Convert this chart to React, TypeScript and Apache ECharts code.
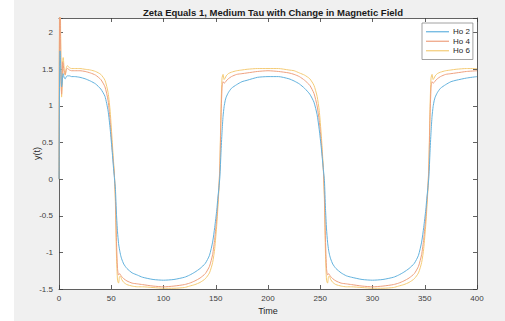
import React, { useEffect, useRef } from "react";
import * as echarts from "echarts";

const title = "Zeta Equals 1, Medium Tau with Change in Magnetic Field";
const seriesNames = ["Ho 2", "Ho 4", "Ho 6"];
const xTicks = [0, 50, 100, 150, 200, 250, 300, 350, 400];
const yTicks = [-1.5, -1, -0.5, 0, 0.5, 1, 1.5, 2];

const time = [
  0, 0.3, 0.7, 1, 1.5, 2, 2.5, 3, 3.5, 4, 5, 6, 7, 8, 10, 12, 15, 20, 25, 30, 35, 40, 44, 47, 49, 51, 52, 53,
  54, 55, 56, 57, 58, 59, 60, 62, 65, 70, 75, 80, 90, 100, 110, 120, 125, 130, 135, 140, 144, 147, 149, 151, 152, 153,
  154, 155, 156, 157, 158, 159, 160, 162, 165, 170, 175, 180, 190, 200, 210, 220, 225, 230, 235, 240, 244, 247, 249, 251, 252, 253,
  254, 255, 256, 257, 258, 259, 260, 262, 265, 270, 275, 280, 290, 300, 310, 320, 325, 330, 335, 340, 344, 347, 349, 351, 352, 353,
  354, 355, 356, 357, 358, 359, 360, 362, 365, 370, 375, 380, 390, 400,
];

const ho2 = [
  0, 0.9, 1.6, 1.75, 1.6, 1.38, 1.26, 1.3, 1.41, 1.44, 1.38, 1.37, 1.4, 1.41, 1.41, 1.4, 1.4, 1.39, 1.37, 1.34, 1.3, 1.23, 1.13, 0.93, 0.68, 0.36, 0.18, 0.02,
  -0.14, -0.48, -0.72, -0.88, -0.97, -1.04, -1.09, -1.16, -1.22, -1.28, -1.31, -1.34, -1.37, -1.38, -1.37, -1.34, -1.31, -1.27, -1.22, -1.15, -1.04, -0.86, -0.66, -0.42, -0.26, -0.12,
  0.04, 0.36, 0.64, 0.86, 0.99, 1.07, 1.12, 1.18, 1.24, 1.29, 1.33, 1.35, 1.39, 1.4, 1.4, 1.37, 1.34, 1.3, 1.24, 1.16, 1.05, 0.88, 0.68, 0.43, 0.28, 0.13,
  -0.02, -0.4, -0.68, -0.86, -0.97, -1.04, -1.09, -1.16, -1.22, -1.28, -1.32, -1.34, -1.37, -1.38, -1.37, -1.34, -1.31, -1.27, -1.22, -1.15, -1.04, -0.86, -0.66, -0.42, -0.26, -0.12,
  0.04, 0.36, 0.64, 0.86, 0.99, 1.07, 1.12, 1.18, 1.24, 1.29, 1.33, 1.35, 1.38, 1.4,
];

const ho4 = [
  0, 1.6, 2.3, 2.4, 1.9, 1.3, 1.16, 1.35, 1.6, 1.58, 1.44, 1.43, 1.5, 1.51, 1.49, 1.48, 1.48, 1.48, 1.47, 1.45, 1.42, 1.36, 1.26, 1.07, 0.78, 0.4, 0.22, 0.05,
  -0.25, -0.85, -1.22, -1.31, -1.29, -1.31, -1.33, -1.36, -1.39, -1.42, -1.43, -1.44, -1.46, -1.47, -1.46, -1.44, -1.42, -1.39, -1.35, -1.29, -1.19, -1.03, -0.82, -0.52, -0.32, -0.12,
  0.18, 0.82, 1.24, 1.33, 1.31, 1.32, 1.34, 1.37, 1.4, 1.43, 1.44, 1.45, 1.47, 1.48, 1.47, 1.45, 1.43, 1.4, 1.35, 1.28, 1.17, 1.0, 0.8, 0.5, 0.31, 0.11,
  -0.22, -0.83, -1.22, -1.31, -1.29, -1.31, -1.33, -1.36, -1.39, -1.42, -1.43, -1.44, -1.46, -1.47, -1.46, -1.44, -1.42, -1.39, -1.35, -1.29, -1.19, -1.03, -0.82, -0.52, -0.32, -0.12,
  0.18, 0.82, 1.24, 1.33, 1.31, 1.32, 1.34, 1.37, 1.4, 1.43, 1.44, 1.45, 1.47, 1.48,
];

const ho6 = [
  0, 1.8, 2.6, 2.7, 2.1, 1.42, 1.12, 1.3, 1.62, 1.66, 1.5, 1.42, 1.52, 1.55, 1.52, 1.51, 1.51, 1.51, 1.5, 1.49, 1.47, 1.43, 1.35, 1.18, 0.92, 0.5, 0.28, 0.08,
  -0.35, -1.05, -1.38, -1.42, -1.33, -1.33, -1.37, -1.41, -1.44, -1.46, -1.47, -1.47, -1.48, -1.49, -1.49, -1.48, -1.46, -1.44, -1.41, -1.36, -1.28, -1.14, -0.95, -0.62, -0.4, -0.15,
  0.25, 0.95, 1.38, 1.43, 1.36, 1.38, 1.41, 1.44, 1.46, 1.48, 1.49, 1.5, 1.51, 1.51, 1.51, 1.49, 1.48, 1.45, 1.42, 1.37, 1.28, 1.13, 0.94, 0.6, 0.38, 0.14,
  -0.3, -1.02, -1.38, -1.42, -1.33, -1.33, -1.37, -1.41, -1.44, -1.46, -1.47, -1.47, -1.48, -1.49, -1.49, -1.48, -1.46, -1.44, -1.41, -1.36, -1.28, -1.14, -0.95, -0.62, -0.4, -0.15,
  0.25, 0.95, 1.38, 1.43, 1.36, 1.38, 1.41, 1.44, 1.46, 1.48, 1.49, 1.5, 1.51, 1.51,
];

const colors = ["#62b2de", "#eea07f", "#f4cb76"];
const FONT = "Helvetica, Arial, 'Liberation Sans', sans-serif";
const AX = "#3a3a3a";

export default function App() {
  const ref = useRef<HTMLDivElement>(null);
  useEffect(() => {
    if (!ref.current) return;
    const chart = echarts.init(ref.current, undefined, { renderer: "svg" });
    const values = [ho2, ho4, ho6];
    const yMin = yTicks[0];
    const yMax = 2.2;
    const tickCommon = { show: true, inside: true, length: 4, lineStyle: { color: AX, width: 0.8 } };
    chart.setOption({
      animation: false,
      backgroundColor: "transparent",
      textStyle: { fontFamily: FONT },
      title: {
        text: title,
        left: 268,
        textAlign: "center",
        top: 2,
        textStyle: { fontSize: 9.5, fontWeight: "bold", color: "#1a1a1a", fontFamily: FONT },
      },
      legend: {
        orient: "vertical",
        left: 422,
        top: 23,
        backgroundColor: "#ffffff",
        borderColor: "#8a8a8a",
        borderWidth: 0.8,
        borderRadius: 0,
        padding: [4, 3, 4, 4],
        itemGap: 0,
        itemWidth: 23,
        itemHeight: 1.2,
        icon: "rect",
        textStyle: { fontSize: 8, color: "#262626", fontFamily: FONT, lineHeight: 9.5, padding: [0, 0, 0, -1] },
        data: seriesNames,
      },
      grid: {
        left: 59,
        right: 28,
        top: 18,
        bottom: 32,
        show: true,
        backgroundColor: "#ffffff",
        borderWidth: 0,
      },
      xAxis: [
        {
          type: "value",
          min: xTicks[0],
          max: xTicks[xTicks.length - 1],
          interval: 50,
          position: "bottom",
          name: "Time",
          nameLocation: "middle",
          nameGap: 17,
          nameMoveOverlap: false,
          nameTextStyle: { fontSize: 9, color: "#262626", fontFamily: FONT },
          axisLine: { show: true, onZero: false, lineStyle: { color: AX, width: 0.8 } },
          axisTick: tickCommon,
          axisLabel: { fontSize: 8, color: "#404040", margin: 5, fontFamily: FONT },
          splitLine: { show: false },
        },
        {
          type: "value",
          min: xTicks[0],
          max: xTicks[xTicks.length - 1],
          interval: 50,
          position: "top",
          axisLine: { show: true, onZero: false, lineStyle: { color: AX, width: 0.8 } },
          axisTick: tickCommon,
          axisLabel: { show: false },
          splitLine: { show: false },
        },
      ],
      yAxis: [
        {
          type: "value",
          min: yMin,
          max: yMax,
          interval: 0.5,
          position: "left",
          name: "y(t)",
          nameLocation: "middle",
          nameGap: 18,
          nameMoveOverlap: false,
          nameRotate: 90,
          nameTextStyle: { fontSize: 9, color: "#262626", fontFamily: FONT },
          axisLine: { show: true, onZero: false, lineStyle: { color: AX, width: 0.8 } },
          axisTick: tickCommon,
          axisLabel: {
            fontSize: 8,
            color: "#404040",
            margin: 6,
            fontFamily: FONT,
            formatter: (v: number) => (yTicks.some((t) => Math.abs(t - v) < 1e-9) ? String(v) : ""),
          },
          splitLine: { show: false },
        },
        {
          type: "value",
          min: yMin,
          max: yMax,
          interval: 0.5,
          position: "right",
          axisLine: { show: true, onZero: false, lineStyle: { color: AX, width: 0.8 } },
          axisTick: tickCommon,
          axisLabel: { show: false },
          splitLine: { show: false },
        },
      ],
      series: seriesNames.map((name, k) => ({
        name,
        type: "line",
        xAxisIndex: 0,
        yAxisIndex: 0,
        data: time.map((t, i) => [t, values[k][i]]),
        showSymbol: false,
        symbol: "none",
        smooth: 0.2,
        clip: true,
        color: colors[k],
        lineStyle: { color: colors[k], width: 1 },
        z: 2 + (2 - k),
      })),
    });
    return () => chart.dispose();
  }, []);

  return (
    <div style={{ position: "fixed", left: 0, top: 0, width: 505, height: 321, background: "#ffffff" }}>
      <div style={{ position: "absolute", left: 14, top: 0, width: 491, height: 321, background: "#f0f0f0" }} />
      <div ref={ref} style={{ position: "absolute", left: 0, top: 0, width: 505, height: 321 }} />
    </div>
  );
}
